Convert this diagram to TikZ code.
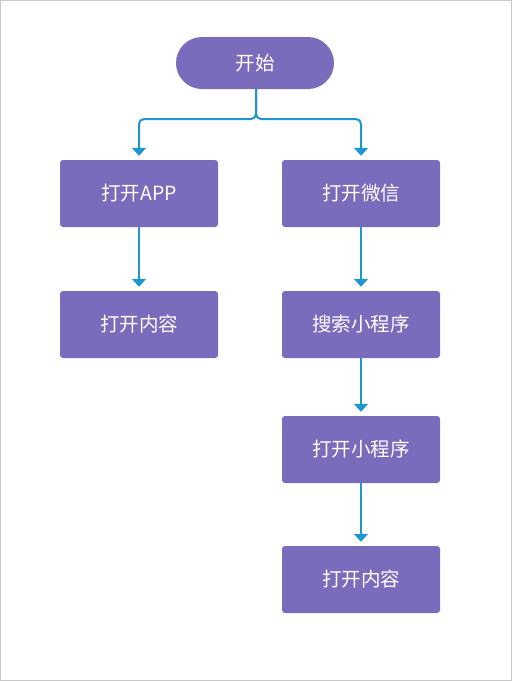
\documentclass[tikz,border=0pt]{standalone}
\usepackage{fontspec}
\setmainfont{Noto Sans CJK SC}
\usetikzlibrary{arrows.meta}
\definecolor{stepfill}{RGB}{123,107,188}
\definecolor{flowblue}{RGB}{30,150,210}
\tikzset{%
  stepbox/.style  = {shape=rectangle, rounded corners=3pt, fill=stepfill,%
                     minimum width=158pt, minimum height=67pt,%
                     text=white, font=\fontsize{19.5}{22}\selectfont},%
  terminal/.style = {stepbox, rounded corners=26pt, minimum height=52pt},%
  flow/.style     = {draw=flowblue, line width=2pt, rounded corners=5pt,%
                     -{Triangle[width=14pt,length=8pt]}, shorten >=4pt}%
}
\begin{document}
\begin{tikzpicture}[x=1pt,y=-1pt,
	every node/.style = {inner sep=0pt}]
	\useasboundingbox (0,0) rectangle (512,681);
	\draw [draw=black!22, line width=1pt] (0.5,0.5) rectangle (511.5,680.5);
	\node [terminal] (start) at (255,63) {开始};
	\node [stepbox] (app) at (139,193.5) {打开APP};
	\node [stepbox] (appcontent) at (139,324.5) {打开内容};
	\node [stepbox] (wechat) at (361,193.5) {打开微信};
	\node [stepbox] (search) at (361,324.5) {搜索小程序};
	\node [stepbox] (mini) at (361,449.5) {打开小程序};
	\node [stepbox] (minicontent) at (361,579.5) {打开内容};
	\coordinate (split) at (256,119);
	\draw [flow] (start.south -| split) -- (split) -- (split -| app) -- (app.north);
	\draw [flow] (start.south -| split) -- (split) -- (split -| wechat) -- (wechat.north);
	\draw [flow] (app) -- (appcontent);
	\draw [flow] (wechat) -- (search);
	\draw [flow] (search) -- (mini);
	\draw [flow] (mini) -- (minicontent);
\end{tikzpicture}
\end{document}
